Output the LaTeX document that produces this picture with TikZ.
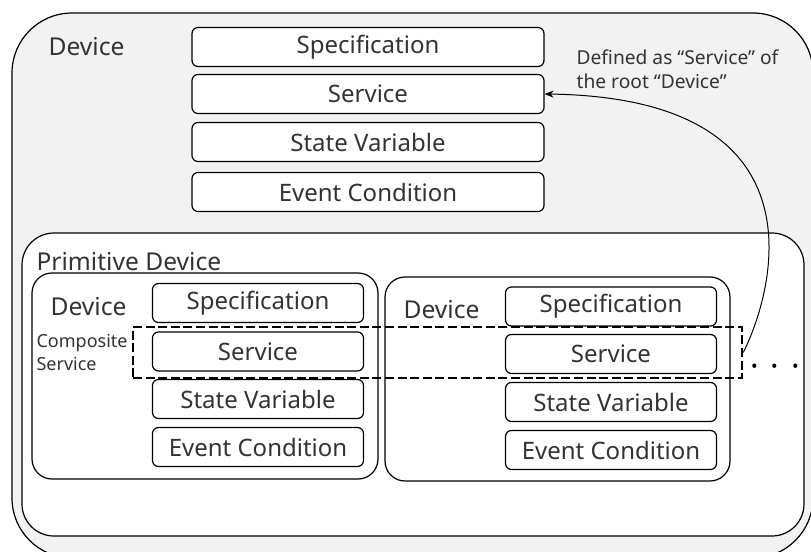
\documentclass[tikz,border=0pt]{standalone}
\usepackage{fontspec}
\setmainfont{Noto Sans}
\usetikzlibrary{arrows.meta}
\definecolor{bggray}{HTML}{F2F2F2}
\definecolor{txtgray}{HTML}{333333}

\begin{document}
\begin{tikzpicture}[x=0.5pt, y=-0.5pt, line width=0.6pt,
  part/.style={draw, rounded corners=3pt, fill=white, text=txtgray, inner sep=0pt,
    minimum height=19.5pt, font=\fontsize{12}{14}\selectfont},
  bigpart/.style={part, minimum width=176pt},
  smallpart/.style={part, minimum width=105.5pt},
  devlabel/.style={text=txtgray, inner sep=0pt, anchor=west, font=\fontsize{12.3}{14}\selectfont},
  note/.style={text=txtgray, inner sep=0pt, anchor=west, align=left}]
\useasboundingbox (0,0) rectangle (811,552);

% root device
\draw [fill=bggray, rounded corners=30pt] (12,13) rectangle (813,558) ;
\node [devlabel] (rootdev) at (48,47) {Device} ;
\node [bigpart] (rspec) at (368,47) {Specification} ;
\node [bigpart] (rserv) at (368,94) {Service} ;
\node [bigpart] (rstate) at (368,142) {State Variable} ;
\node [bigpart] (revent) at (368,192) {Event Condition} ;
\node [note, font=\fontsize{9.6}{12}\selectfont] (defined) at (576,69) {Defined as “Service” of\\the root “Device”} ;

% primitive device
\draw [fill=white, rounded corners=16pt] (22,233) rectangle (804,536) ;
\node [devlabel] (prim) at (36,262) {Primitive Device} ;

% left device
\draw [rounded corners=10pt] (32,273) rectangle (378,479) ;
\node [devlabel] (ldev) at (50,307) {Device} ;
\node [smallpart] (lspec) at (258,303) {Specification} ;
\node [smallpart] (lserv) at (258,351.5) {Service} ;
\node [smallpart] (lstate) at (258,399) {State Variable} ;
\node [smallpart] (levent) at (258,447) {Event Condition} ;
\node [note, font=\fontsize{9}{11.5}\selectfont] (compo) at (36,352) {Composite\\Service} ;

% right device
\draw [rounded corners=10pt] (385,277) rectangle (730,481) ;
\node [devlabel] (rdev) at (403,310) {Device} ;
\node [smallpart] (rrspec) at (611,306.5) {Specification} ;
\node [smallpart] (rrserv) at (611,354) {Service} ;
\node [smallpart] (rrstate) at (611,402) {State Variable} ;
\node [smallpart] (rrevent) at (611,450) {Event Condition} ;

% composite service
\node [draw, line width=1.25pt, dash pattern=on 4.5pt off 1.8pt, inner sep=0pt,
  minimum width=304.5pt, minimum height=25.5pt] (comp) at (437.5,352.5) {} ;
\node [text=black, inner sep=0pt, font=\fontsize{16}{18}\bfseries] (more) at (775,371) {·\hspace{6pt}·\hspace{6pt}·} ;

\draw [line width=0.5pt, -{Stealth[length=4.5pt, width=3.5pt]}] (comp.east) .. controls (770,300) and (835,98) .. (rserv.east) ;

\end{tikzpicture}
\end{document}
